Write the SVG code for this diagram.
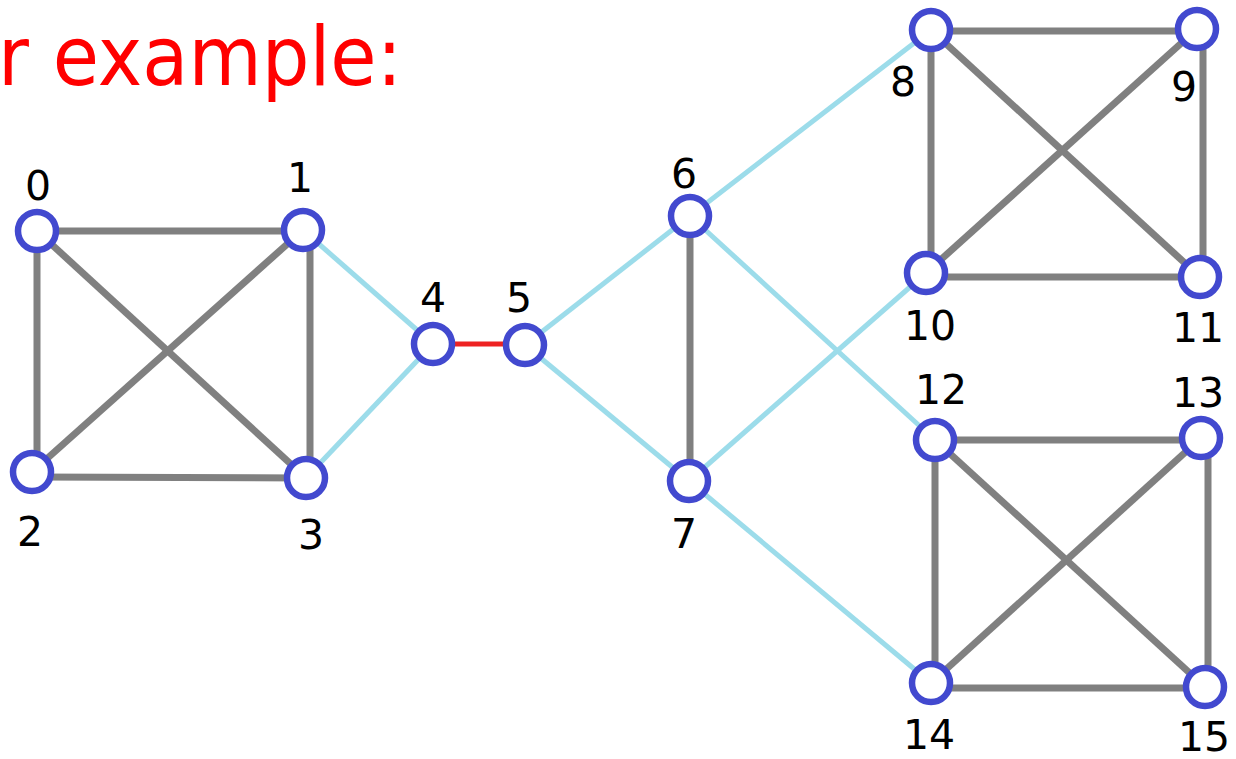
<svg xmlns="http://www.w3.org/2000/svg" width="1236" height="759" viewBox="0 0 1236 759">
<style>
.g{stroke:#808080;stroke-width:7;fill:none}
.b{stroke:#9cdcea;stroke-width:5;fill:none}
.r{stroke:#ee2222;stroke-width:5;fill:none}
.n circle{fill:#fff;stroke:#4249cf;stroke-width:6.5}
.n text{font-family:"Comic Sans MS","DejaVu Sans","Liberation Sans",sans-serif;font-size:41px;fill:#000;text-anchor:middle}
.t{font-family:"Comic Sans MS","DejaVu Sans","Liberation Sans",sans-serif;font-size:82px;fill:#ff0000}
</style>
<rect width="1236" height="759" fill="#fff"/>
<text class="t" x="-2" y="85" textLength="404" lengthAdjust="spacingAndGlyphs">r example:</text>
<g id="connectors">
<line class="g" x1="37" y1="231" x2="303" y2="231"/>
<line class="g" x1="37" y1="231" x2="37" y2="472"/>
<line class="g" x1="37" y1="231" x2="306" y2="478"/>
<line class="g" x1="303" y1="230" x2="32" y2="472"/>
<line class="g" x1="310" y1="230" x2="310" y2="478"/>
<line class="g" x1="32" y1="477" x2="306" y2="478"/>
<line class="b" x1="303" y1="230" x2="433" y2="344"/>
<line class="b" x1="306" y1="478" x2="433" y2="344"/>
<line class="r" x1="433" y1="344" x2="525" y2="344"/>
<line class="b" x1="525" y1="345" x2="690" y2="216"/>
<line class="b" x1="525" y1="345" x2="689" y2="481"/>
<line class="g" x1="690" y1="216" x2="690" y2="481"/>
<line class="b" x1="690" y1="216" x2="931" y2="30"/>
<line class="b" x1="690" y1="216" x2="935" y2="440"/>
<line class="b" x1="689" y1="481" x2="926" y2="273"/>
<line class="b" x1="689" y1="481" x2="931" y2="683"/>
<line class="g" x1="931" y1="31" x2="1197" y2="31"/>
<line class="g" x1="931" y1="30" x2="931" y2="273"/>
<line class="g" x1="931" y1="30" x2="1200" y2="277"/>
<line class="g" x1="1197" y1="29" x2="926" y2="273"/>
<line class="g" x1="1203" y1="29" x2="1203" y2="277"/>
<line class="g" x1="926" y1="277" x2="1200" y2="277"/>
<line class="g" x1="935" y1="440" x2="1201" y2="440"/>
<line class="g" x1="935" y1="440" x2="935" y2="683"/>
<line class="g" x1="935" y1="440" x2="1205" y2="687"/>
<line class="g" x1="1201" y1="438" x2="931" y2="683"/>
<line class="g" x1="1208" y1="438" x2="1208" y2="687"/>
<line class="g" x1="931" y1="688" x2="1205" y2="688"/>
</g>
<g id="node0" class="n"><circle cx="37" cy="231" r="19"/><text x="38" y="200">0</text></g>
<g id="node1" class="n"><circle cx="303" cy="230" r="19"/><text x="300" y="192">1</text></g>
<g id="node2" class="n"><circle cx="32" cy="472" r="19"/><text x="30" y="546">2</text></g>
<g id="node3" class="n"><circle cx="306" cy="478" r="19"/><text x="311" y="549">3</text></g>
<g id="node4" class="n"><circle cx="433" cy="344" r="19"/><text x="433" y="312">4</text></g>
<g id="node5" class="n"><circle cx="525" cy="345" r="19"/><text x="519" y="312">5</text></g>
<g id="node6" class="n"><circle cx="690" cy="216" r="19"/><text x="684" y="188">6</text></g>
<g id="node7" class="n"><circle cx="689" cy="481" r="19"/><text x="684" y="548">7</text></g>
<g id="node8" class="n"><circle cx="931" cy="30" r="19"/><text x="903" y="96">8</text></g>
<g id="node9" class="n"><circle cx="1197" cy="29" r="19"/><text x="1184" y="101">9</text></g>
<g id="node10" class="n"><circle cx="926" cy="273" r="19"/><text x="930" y="340">10</text></g>
<g id="node11" class="n"><circle cx="1200" cy="277" r="19"/><text x="1198" y="342">11</text></g>
<g id="node12" class="n"><circle cx="935" cy="440" r="19"/><text x="941" y="404">12</text></g>
<g id="node13" class="n"><circle cx="1201" cy="438" r="19"/><text x="1198" y="407">13</text></g>
<g id="node14" class="n"><circle cx="931" cy="683" r="19"/><text x="929" y="749">14</text></g>
<g id="node15" class="n"><circle cx="1205" cy="687" r="19"/><text x="1204" y="751">15</text></g>
</svg>
